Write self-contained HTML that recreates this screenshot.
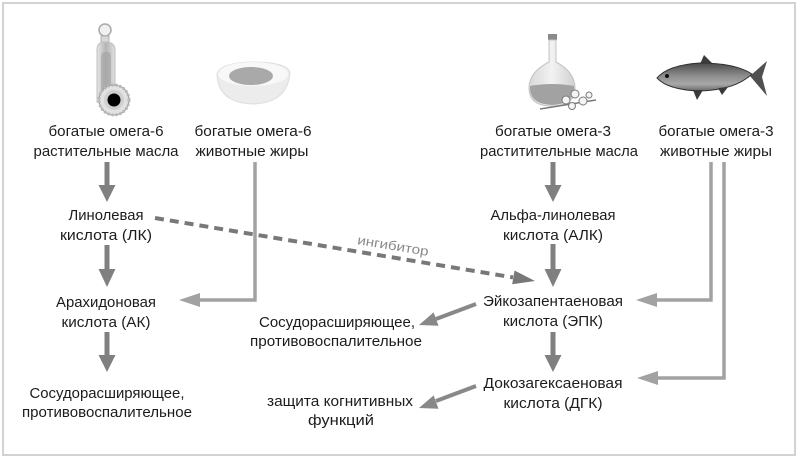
<!DOCTYPE html>
<html>
<head>
<meta charset="utf-8">
<style>
  html,body{margin:0;padding:0;background:#fff;}
  svg{display:block;}
  .t{font-family:"Liberation Sans","Noto Sans CJK SC",sans-serif;font-size:14.5px;fill:#1c1c1c;}
</style>
</head>
<body>
<svg width="800" height="458" viewBox="0 0 800 458" xmlns="http://www.w3.org/2000/svg">
  <defs>
    <linearGradient id="bottle" x1="0" y1="0" x2="1" y2="0">
      <stop offset="0" stop-color="#e6e6e6"/>
      <stop offset="0.5" stop-color="#b4b4b4"/>
      <stop offset="1" stop-color="#e0e0e0"/>
    </linearGradient>
    <linearGradient id="fish" x1="0" y1="0" x2="0" y2="1">
      <stop offset="0" stop-color="#4a4a4a"/>
      <stop offset="0.45" stop-color="#8c8c8c"/>
      <stop offset="0.75" stop-color="#a8a8a8"/>
      <stop offset="1" stop-color="#6a6a6a"/>
    </linearGradient>
    <linearGradient id="carafe" x1="0" y1="0" x2="1" y2="0">
      <stop offset="0" stop-color="#d8d8d8"/>
      <stop offset="0.5" stop-color="#f2f2f2"/>
      <stop offset="1" stop-color="#d0d0d0"/>
    </linearGradient>
  </defs>

  <!-- frame -->
  <rect x="3" y="3" width="792" height="452" fill="#fff" stroke="#d2d2d2" stroke-width="2"/>

  <!-- ICON: bottle + sunflower -->
  <circle cx="105" cy="30" r="6" fill="#f0f0f0" stroke="#a8a8a8" stroke-width="1.5"/>
  <rect x="101" y="36" width="8" height="7" fill="#d8d8d8" stroke="#b0b0b0" stroke-width="1"/>
  <path d="M97 50 Q97 43 103 42 L107 42 Q115 43 115 50 L115 102 L97 102 Z" fill="url(#bottle)" stroke="#c0c0c0" stroke-width="1"/>
  <rect x="101" y="52" width="10" height="46" rx="4" fill="#a0a0a0" opacity="0.6"/>
  <g transform="translate(114,100)">
    <circle r="15" fill="#e2e2e2" stroke="#9a9a9a" stroke-width="1"/>
    <circle r="15" fill="none" stroke="#b8b8b8" stroke-width="3" stroke-dasharray="2 2"/>
    <circle r="10" fill="#cfcfcf"/>
    <circle r="6.5" fill="#000"/>
  </g>

  <!-- ICON: egg -->
  <path d="M217 74 Q218 103 253 104 Q288 103 290 72 Q286 62 252 62 Q220 63 217 74 Z" fill="#ececec" stroke="#dddddd" stroke-width="1"/>
  <ellipse cx="253" cy="74" rx="35" ry="12" fill="#f8f8f8"/>
  <ellipse cx="251" cy="76" rx="22" ry="9" fill="#a9a9a9"/>

  <!-- ICON: carafe + flowers -->
  <rect x="548" y="34" width="9" height="6" fill="#8a8a8a"/>
  <path d="M549 40 L556 40 L556 62 Q575 72 575 88 Q575 106 552 106 Q529 106 529 88 Q529 72 549 62 Z" fill="url(#carafe)" stroke="#c4c4c4" stroke-width="1"/>
  <path d="M530 86 Q552 82 574 86 Q575 104 552 105 Q529 104 530 86 Z" fill="#a2a2a2"/>
  <path d="M540 109 L596 100" stroke="#7a7a7a" stroke-width="1.5"/>
  <g fill="#f4f4f4" stroke="#7a7a7a" stroke-width="1">
    <circle cx="566" cy="100" r="4"/>
    <circle cx="575" cy="94" r="4"/>
    <circle cx="583" cy="101" r="4"/>
    <circle cx="572" cy="106" r="3.5"/>
    <circle cx="589" cy="95" r="3"/>
  </g>

  <!-- ICON: fish -->
  <path d="M700 64 L704 55 L713 64 Z" fill="#3c3c3c"/>
  <path d="M657 78 Q668 65 700 63 Q735 63 752 74 Q735 90 700 91 Q668 90 657 78 Z" fill="url(#fish)" stroke="#333" stroke-width="1"/>
  <path d="M750 76 L767 61 L762 77 L767 96 Z" fill="#505050"/>
  <path d="M693 90 L697 100 L703 90 Z" fill="#3a3a3a"/>
  <path d="M718 88 L722 95 L728 87 Z" fill="#3a3a3a"/>
  <circle cx="667" cy="76" r="2" fill="#111"/>

  <!-- TEXT -->
  <g class="t" text-anchor="middle">
    <text x="106" y="136" textLength="115" lengthAdjust="spacingAndGlyphs">богатые омега-6</text>
    <text x="106" y="156" textLength="145" lengthAdjust="spacingAndGlyphs">растительные масла</text>
    <text x="253" y="136" textLength="117" lengthAdjust="spacingAndGlyphs">богатые омега-6</text>
    <text x="252" y="156" textLength="113" lengthAdjust="spacingAndGlyphs">животные жиры</text>
    <text x="553" y="136" textLength="116" lengthAdjust="spacingAndGlyphs">богатые омега-3</text>
    <text x="559" y="156" textLength="158" lengthAdjust="spacingAndGlyphs">раститительные масла</text>
    <text x="716" y="136" textLength="115" lengthAdjust="spacingAndGlyphs">богатые омега-3</text>
    <text x="716" y="156" textLength="112" lengthAdjust="spacingAndGlyphs">животные жиры</text>

    <text x="106" y="220" textLength="75" lengthAdjust="spacingAndGlyphs">Линолевая</text>
    <text x="106" y="240" textLength="92" lengthAdjust="spacingAndGlyphs">кислота (ЛК)</text>
    <text x="553" y="220" textLength="125" lengthAdjust="spacingAndGlyphs">Альфа-линолевая</text>
    <text x="553" y="240" textLength="100" lengthAdjust="spacingAndGlyphs">кислота (АЛК)</text>

    <text x="106" y="307" textLength="100" lengthAdjust="spacingAndGlyphs">Арахидоновая</text>
    <text x="106" y="327" textLength="89" lengthAdjust="spacingAndGlyphs">кислота (АК)</text>
    <text x="553" y="306" textLength="140" lengthAdjust="spacingAndGlyphs">Эйкозапентаеновая</text>
    <text x="553" y="326" textLength="100" lengthAdjust="spacingAndGlyphs">кислота (ЭПК)</text>

    <text x="337" y="327" textLength="156" lengthAdjust="spacingAndGlyphs">Сосудорасширяющее,</text>
    <text x="336" y="346" textLength="172" lengthAdjust="spacingAndGlyphs">противовоспалительное</text>

    <text x="553" y="388" textLength="139" lengthAdjust="spacingAndGlyphs">Докозагексаеновая</text>
    <text x="553" y="408" textLength="99" lengthAdjust="spacingAndGlyphs">кислота (ДГК)</text>

    <text x="340" y="406" textLength="146" lengthAdjust="spacingAndGlyphs">защита когнитивных</text>
    <text x="341" y="425" textLength="66" lengthAdjust="spacingAndGlyphs">функций</text>

    <text x="107" y="398" textLength="155" lengthAdjust="spacingAndGlyphs">Сосудорасширяющее,</text>
    <text x="107" y="417" textLength="170" lengthAdjust="spacingAndGlyphs">противовоспалительное</text>
  </g>

  <!-- thick vertical arrows -->
  <g fill="#808080" stroke="none">
    <rect x="104.5" y="162" width="5" height="25"/>
    <polygon points="98.5,185 115.5,185 107,202"/>
    <rect x="104.5" y="245" width="5" height="25"/>
    <polygon points="98.5,269 115.5,269 107,287"/>
    <rect x="104.5" y="332" width="5" height="24"/>
    <polygon points="98.5,355 115.5,355 107,372"/>

    <rect x="550.5" y="162" width="5" height="25"/>
    <polygon points="544.5,185 561.5,185 553,202"/>
    <rect x="550.5" y="244" width="5" height="26"/>
    <polygon points="544.5,269 561.5,269 553,287"/>
    <rect x="550.5" y="332" width="5" height="24"/>
    <polygon points="544.5,355 561.5,355 553,372"/>
  </g>

  <!-- L connectors -->
  <g stroke="#a2a2a2" stroke-width="3.5" fill="none">
    <polyline points="255,162 255,300 198,300"/>
    <polyline points="711,162 711,300 655,300"/>
    <polyline points="724,162 724,378 656,378"/>
  </g>
  <g fill="#a2a2a2">
    <polygon points="179,300 200,293 200,307"/>
    <polygon points="636,300 657,293 657,307"/>
    <polygon points="637,378 658,371 658,385"/>
  </g>

  <!-- diagonal arrows -->
  <g stroke="#888" stroke-width="4" fill="none">
    <line x1="476" y1="304" x2="436" y2="319"/>
    <line x1="476" y1="386" x2="436" y2="401"/>
  </g>
  <g fill="#888">
    <polygon points="419,325 438.5,325.8 433.6,312.4"/>
    <polygon points="419,408 438.5,408.8 433.6,395.4"/>
  </g>

  <!-- dashed inhibitor -->
  <line x1="155" y1="218" x2="513" y2="277.4" stroke="#787878" stroke-width="4" stroke-dasharray="9 6"/>
  <polygon points="535,281 512.2,284.3 514.5,270.5" fill="#787878"/>
  <text x="393" y="250" text-anchor="middle" transform="rotate(9.4 393 246)" font-family="Liberation Sans, sans-serif" font-size="13" fill="#8a8a8a" textLength="72" lengthAdjust="spacingAndGlyphs">ингибитор</text>
</svg>
</body>
</html>
